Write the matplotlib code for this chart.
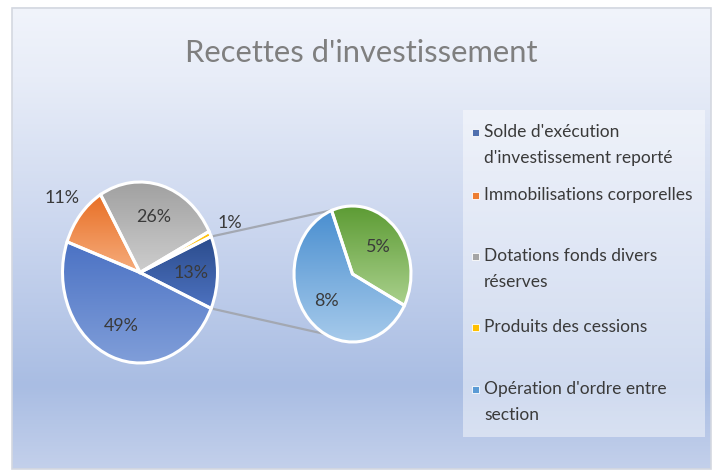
import numpy as np
import matplotlib
matplotlib.use('Agg')
import matplotlib.pyplot as plt
from matplotlib.colors import LinearSegmentedColormap
from matplotlib.patches import Rectangle

plt.rcParams['font.family'] = ['Lato', 'DejaVu Sans']

# ---------------- data ----------------
title = "Recettes d'investissement"
main_names = ["Solde d'exécution d'investissement reporté", "Immobilisations corporelles",
              "Dotations fonds divers réserves", "Produits des cessions"]
main_pct = [49, 11, 26, 1]
second_names = ["Opération d'ordre entre section", "Autre"]
second_pct = [8, 5]
legend_labels = ["Solde d'exécution\nd'investissement reporté", "Immobilisations corporelles",
                 "Dotations fonds divers\nréserves", "Produits des cessions",
                 "Opération d'ordre entre\nsection"]

other_pct = sum(second_pct)
main_values = [other_pct] + main_pct  # clockwise, starting with the split-off slice

# ---------------- style ----------------
W, H = 719, 473
main_grad = [("#2b4c8c", "#4d72c0"), ("#4b72c4", "#809ed9"), ("#e86f25", "#f6ac7c"),
             ("#a0a0a0", "#cdcdcd"), ("#ffc000", "#ffdc70")]
second_grad = [("#4a8fd0", "#a6caeb"), ("#5c9b33", "#a9d08c")]
legend_colors = ["#4f6fae", "#ed7d31", "#a5a5a5", "#ffc000", "#5b9bd5"]
label_color = "#3a3a3a"

fig = plt.figure(figsize=(W / 100, H / 100), dpi=100)
renderer = fig.canvas.get_renderer()
bg = fig.add_axes([0, 0, 1, 1], zorder=0)
bg.set_xlim(0, W)
bg.set_ylim(H, 0)
bg.axis('off')


def fit(t, target_w):
    w = t.get_window_extent(renderer).width
    t.set_fontsize(t.get_fontsize() * target_w / w)


# chart-area gradient background
stops = [(0.0, "#f1f4fb"), (0.15, "#e8edf8"), (0.5, "#c9d5ee"), (0.82, "#a9bde3"), (1.0, "#c3d0eb")]
cmap_bg = LinearSegmentedColormap.from_list("bg", stops)
grad = np.linspace(0, 1, 256).reshape(-1, 1)
bg.imshow(grad, cmap=cmap_bg, extent=[12, 711, 469, 8], aspect='auto', zorder=0)
bg.add_patch(Rectangle((12, 8), 699, 461, fill=False, edgecolor="#d4d8e0", lw=1.2, zorder=1))


def pie_axes(cx, cy, rx, ry, lim=1.1):
    return fig.add_axes([(cx - rx * lim) / W, (H - cy - ry * lim) / H,
                         2 * rx * lim / W, 2 * ry * lim / H], zorder=2)


def draw_pie(ax, values, grads, startangle, lim=1.1):
    wedges, _ = ax.pie(values, startangle=startangle, counterclock=False,
                       wedgeprops=dict(edgecolor='white', linewidth=2.2))
    ax.set_aspect('auto')
    ax.set_xlim(-lim, lim)
    ax.set_ylim(-lim, lim)
    ax.axis('off')
    g = np.linspace(0, 1, 128).reshape(-1, 1)
    for w, (c0, c1) in zip(wedges, grads):
        ext = w.get_path().get_extents()
        cm = LinearSegmentedColormap.from_list("w", [c1, c0])  # bottom light, top dark
        im = ax.imshow(g, cmap=cm, extent=[ext.x0, ext.x1, ext.y0, ext.y1], origin='lower',
                       aspect='auto', zorder=1)
        im.set_clip_path(w)
        w.set_facecolor('none')
        w.set_zorder(2)
        w.set_clip_on(False)
    return wedges


label_fs = 14

# main pie
mcx, mcy, mrx, mry = 140, 272.5, 77.5, 90.5
ax_main = pie_axes(mcx, mcy, mrx, mry)
half = other_pct / 100 * 360 / 2
wm = draw_pie(ax_main, main_values, main_grad, startangle=half)
main_r = [0.66, 0.64, 1.30, 0.64, 1.28]
labels = []
for w, v, r in zip(wm, main_values, main_r):
    mid = np.deg2rad((w.theta1 + w.theta2) / 2)
    labels.append(ax_main.text(r * np.cos(mid), r * np.sin(mid), f"{v}%", ha='center', va='center',
                               fontsize=label_fs, color=label_color, zorder=5))

# secondary pie
scx, scy, srx, sry = 352.5, 274, 58.5, 68
ax_sec = pie_axes(scx, scy, srx, sry)
ws = draw_pie(ax_sec, second_pct, second_grad, startangle=-27.5)
for w, v in zip(ws, second_pct):
    mid = np.deg2rad((w.theta1 + w.theta2) / 2)
    labels.append(ax_sec.text(0.6 * np.cos(mid), 0.6 * np.sin(mid), f"{v}%", ha='center', va='center',
                              fontsize=label_fs, color=label_color, zorder=5))
# fit label size so "49%" is ~35 px wide
w49 = labels[1].get_window_extent(renderer).width
for t in labels:
    t.set_fontsize(label_fs * 35 / w49)

# connector lines
inv = bg.transData.inverted()
for a_main, a_sec in [(half, 110), (-half, 242)]:
    p0 = inv.transform(ax_main.transData.transform((np.cos(np.deg2rad(a_main)), np.sin(np.deg2rad(a_main)))))
    p1 = inv.transform(ax_sec.transData.transform((np.cos(np.deg2rad(a_sec)), np.sin(np.deg2rad(a_sec)))))
    bg.plot([p0[0], p1[0]], [p0[1], p1[1]], color="#a3a8b2", lw=1.6, zorder=2)

# title
tt = bg.text(361, 53, title, ha='center', va='center', fontsize=22, color="#7f7f7f", zorder=3)
fit(tt, 350)

# legend
bg.add_patch(Rectangle((463, 110), 242, 327, facecolor="white", alpha=0.45, edgecolor='none', zorder=2))
leg_y = [132, 195, 256, 327, 389]
probe = bg.text(0, 0, "Immobilisations corporelles", fontsize=13)
leg_fs = 13 * 208 / probe.get_window_extent(renderer).width
probe.remove()
for y, lab, c in zip(leg_y, legend_labels, legend_colors):
    bg.add_patch(Rectangle((472, y - 3.5), 6.5, 7, facecolor=c, edgecolor='white', lw=0.6, zorder=3))
    bg.text(484, y, lab.split("\n")[0], ha='left', va='center', fontsize=leg_fs,
            color=label_color, zorder=3)
    if "\n" in lab:
        bg.text(484, y + 26, lab.split("\n")[1], ha='left', va='center', fontsize=leg_fs,
                color=label_color, zorder=3)

fig.savefig("out.png", dpi=100)
